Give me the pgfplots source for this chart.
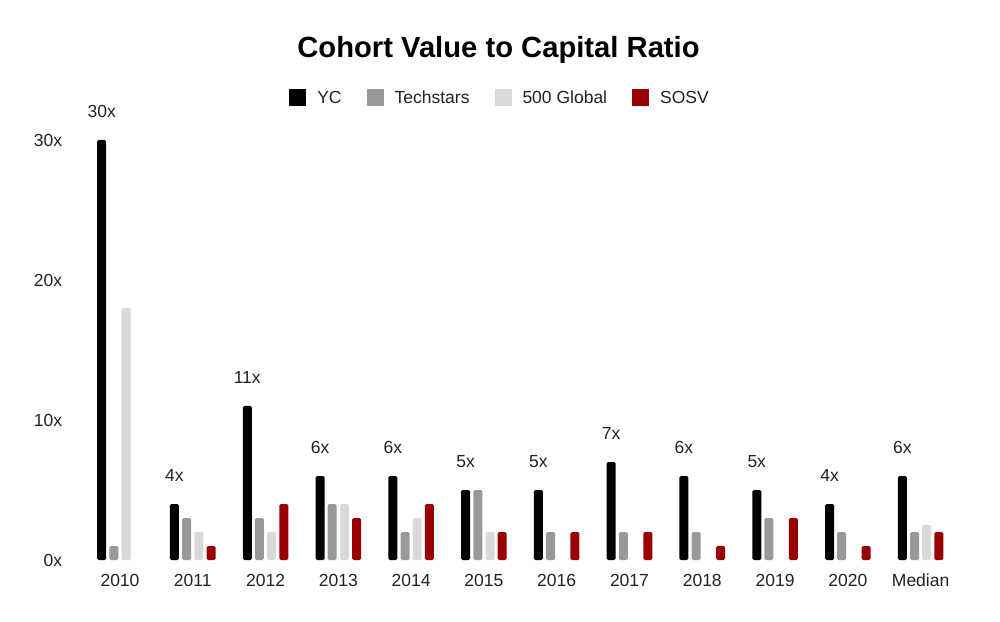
\documentclass[border=0pt]{standalone}
\usepackage{pgfplots}
\pgfplotsset{compat=1.18}
\usepackage{fontspec}
\setmainfont{Liberation Sans}
\definecolor{cYC}{HTML}{000000}
\definecolor{cTS}{HTML}{999999}
\definecolor{cFG}{HTML}{D9D9D9}
\definecolor{cSO}{HTML}{990000}
\definecolor{txt}{HTML}{222222}
\begin{document}
\begin{tikzpicture}[x=1pt,y=1pt]
\useasboundingbox (0,0) rectangle (1000,621);
\node[font=\bfseries\fontsize{29.2}{33}\selectfont, anchor=base, inner sep=0pt] at (498.5,563) {Cohort Value to Capital Ratio};
\begin{axis}[
  at={(83.6pt,61pt)}, anchor=south west,
  scale only axis, width=873.4pt, height=420pt,
  xmin=-0.5, xmax=11.5, ymin=0, ymax=30,
  clip=false,
  ybar=3.2pt, bar width=9pt,
  axis line style={draw=none}, tick style={draw=none},
  /pgf/number format/assume math mode=true,
  xtick={0,1,2,3,4,5,6,7,8,9,10,11},
  xticklabels={2010,2011,2012,2013,2014,2015,2016,2017,2018,2019,2020,Median},
  ytick={0,10,20,30},
  yticklabels={0x,10x,20x,30x},
  ticklabel style={font=\fontsize{17.5}{20}\selectfont, text=txt},
  xticklabel style={anchor=north, yshift=-6pt},
  yticklabel style={anchor=east, xshift=-18pt},
  legend columns=4,
  legend style={at={(0.4768,1.1)}, anchor=center, draw=none, fill=none,
    font=\fontsize{17.5}{20}\selectfont, text=txt,
    /tikz/every odd column/.append style={column sep=9pt},
    /tikz/every even column/.append style={column sep=23pt}},
  legend image code/.code={\path[#1, rounded corners=0pt] (0pt,-8.5pt) rectangle (17pt,8.5pt);},
]
\addplot[fill=cYC, draw=none, rounded corners=1.5pt, nodes near coords={\pgfmathprintnumber{\pgfplotspointmeta}x},
  point meta=y,
  every node near coord/.append style={anchor=base, inner sep=0pt, yshift=22.5pt, font=\fontsize{17.5}{20}\selectfont, text=txt}]
  coordinates {(0,30) (1,4) (2,11) (3,6) (4,6) (5,5) (6,5) (7,7) (8,6) (9,5) (10,4) (11,6)};
\addplot[fill=cTS, draw=none, rounded corners=1.5pt]
  coordinates {(0,1) (1,3) (2,3) (3,4) (4,2) (5,5) (6,2) (7,2) (8,2) (9,3) (10,2) (11,2)};
\addplot[fill=cFG, draw=none, rounded corners=1.5pt]
  coordinates {(0,18) (1,2) (2,2) (3,4) (4,3) (5,2) (11,2.5)};
\addplot[fill=cSO, draw=none, rounded corners=1.5pt]
  coordinates {(1,1) (2,4) (3,3) (4,4) (5,2) (6,2) (7,2) (8,1) (9,3) (10,1) (11,2)};
\legend{YC,Techstars,500 Global,SOSV}
\end{axis}
\end{tikzpicture}
\end{document}
